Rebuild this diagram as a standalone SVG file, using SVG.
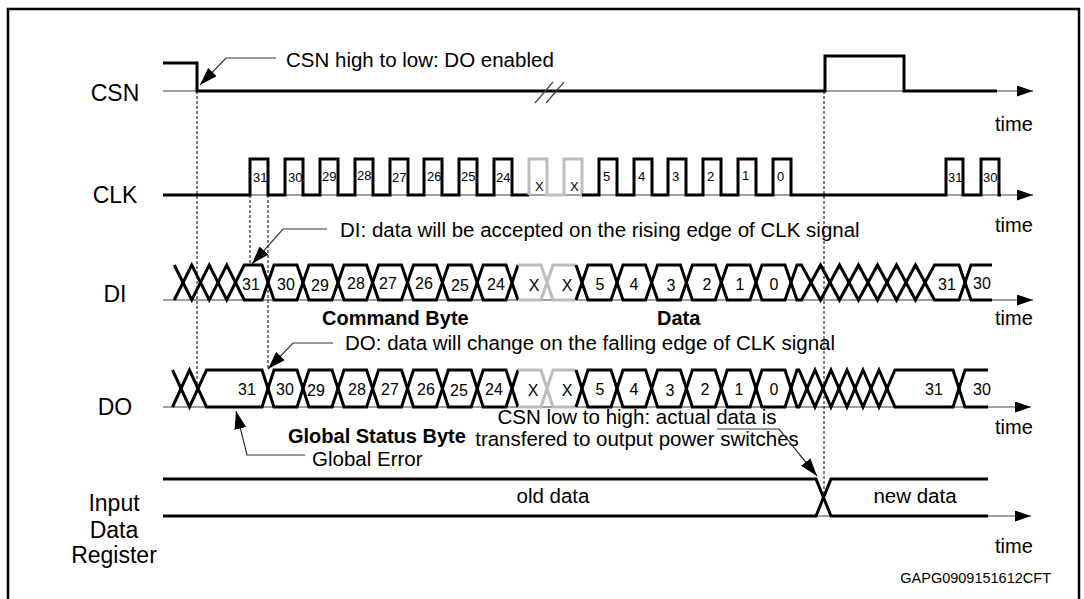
<svg xmlns="http://www.w3.org/2000/svg" width="1084" height="599" viewBox="0 0 1084 599">
<defs>
<marker id="ah" markerWidth="18" markerHeight="12" refX="18" refY="6" orient="auto" markerUnits="userSpaceOnUse"><path d="M0,0 L18,6 L0,12 z" fill="#000"/></marker>
<marker id="ax" markerWidth="16" markerHeight="11" refX="16" refY="5.5" orient="auto" markerUnits="userSpaceOnUse"><path d="M0,0 L16,5.5 L0,11 z" fill="#000"/></marker>
</defs>
<style>
text{font-family:"Liberation Sans",Arial,sans-serif;fill:#000}
.lbl{font-size:23px;text-anchor:middle}
.ann{font-size:20.5px}
.b{font-size:20px;font-weight:bold}
.tm{font-size:20px}
.sm{font-size:13px}
.bl{font-size:16px;text-anchor:middle}
.w{fill:none;stroke:#000;stroke-width:3;stroke-linejoin:miter}
.g{fill:none;stroke:#bdbdbd;stroke-width:3}
.axis{fill:none;stroke:#808080;stroke-width:1.5}
.dash{fill:none;stroke:#000;stroke-width:1;stroke-dasharray:3,2}
.lead{fill:none;stroke:#333;stroke-width:1.2}
.brk{fill:none;stroke:#444;stroke-width:1.2}
</style>
<rect id="frame" x="8" y="9" width="1071" height="610" fill="none" stroke="#000" stroke-width="2.5"/>

<g id="csn">
<text class="lbl" x="115" y="101">CSN</text>
<path class="axis" d="M163,91 H1033" marker-end="url(#ax)"/>
<path class="w" d="M163,63 H197 V91 H825 V56 H904 V91 H997"/>
<path class="brk" d="M535,103 L553,82 M546,103 L564,82"/>
<text class="tm" x="995" y="131">time</text>
</g>

<g id="clk">
<text class="lbl" x="115" y="203">CLK</text>
<path class="axis" d="M163,195 H1033" marker-end="url(#ax)"/>
<path class="w" d="M163,195 H250 V159 H268 V195 H285 V159 H303 V195 H320 V159 H338 V195 H355 V159 H373 V195 H390 V159 H408 V195 H424 V159 H442 V195 H459 V159 H477 V195 H494 V159 H512 V195 H529"/>
<path class="g" d="M529,195 V159 H547 V195 H564 V159 H582 V195"/>
<path class="w" d="M582,195 H599 V159 H617 V195 H634 V159 H652 V195 H668 V159 H686 V195 H703 V159 H721 V195 H738 V159 H756 V195 H773 V159 H791 V195 H946 V159 H963 V195 H981 V159 H999 V195 H1001"/>
<g>
<text class="sm" x="253" y="182">31</text><text class="sm" x="288" y="182">30</text><text class="sm" x="322" y="181">29</text><text class="sm" x="357" y="180">28</text><text class="sm" x="392" y="182">27</text><text class="sm" x="427" y="181">26</text><text class="sm" x="461" y="181">25</text><text class="sm" x="496" y="182">24</text>
<text class="sm" x="535" y="191">X</text><text class="sm" x="570" y="191">X</text>
<text class="sm" x="603" y="181">5</text><text class="sm" x="638" y="181">4</text><text class="sm" x="672" y="181">3</text><text class="sm" x="707" y="181">2</text><text class="sm" x="742" y="180">1</text><text class="sm" x="777" y="181">0</text>
<text class="sm" x="948" y="182">31</text><text class="sm" x="983" y="182">30</text>
</g>
<text class="tm" x="995" y="232">time</text>
</g>

<g id="di">
<text class="lbl" x="115" y="302">DI</text>
<path class="axis" d="M163,300 H1033" marker-end="url(#ax)"/>
<path class="w" d="M174.25,265 L191.75,300 L209.25,265 L226.75,300 L244.25,265 H262 L274,300 H297 L309,265 H332 L344,300 H366.6 L378.6,265 H401.5 L413.5,300 H436.4 L448.4,265 H471.2 L483.2,300 H506 L518,265"/>
<path class="w" d="M174.25,300 L191.75,265 L209.25,300 L226.75,265 L244.25,300 H262 L274,265 H297 L309,300 H332 L344,265 H366.6 L378.6,300 H401.5 L413.5,265 H436.4 L448.4,300 H471.2 L483.2,265 H506 L518,300"/>
<path class="g" d="M518,265 H541 L553,300 H576 M518,300 H541 L553,265 H576"/>
<path class="w" d="M576,265 L588,300 H611 L623,265 H645.6 L657.6,300 H680.4 L692.4,265 H715.3 L727.3,300 H750 L762,265 H785 L797,300 H801.5 L820.5,265 L839.5,300 L858.5,265 L877.5,300 L896.5,265 L915.5,300 L934.5,265 H959 L971,300 H992"/>
<path class="w" d="M576,300 L588,265 H611 L623,300 H645.6 L657.6,265 H680.4 L692.4,300 H715.3 L727.3,265 H750 L762,300 H785 L797,265 H801.5 L820.5,300 L839.5,265 L858.5,300 L877.5,265 L896.5,300 L915.5,265 L934.5,300 H959 L971,265 H992"/>
<text class="bl" x="251" y="290">31</text><text class="bl" x="286" y="290">30</text><text class="bl" x="320" y="291">29</text><text class="bl" x="356" y="289">28</text><text class="bl" x="388" y="289">27</text><text class="bl" x="424" y="289">26</text><text class="bl" x="460" y="291">25</text><text class="bl" x="496" y="290">24</text>
<text class="bl" x="534" y="291">X</text><text class="bl" x="567" y="291">X</text>
<text class="bl" x="600" y="290">5</text><text class="bl" x="634" y="290">4</text><text class="bl" x="671" y="291">3</text><text class="bl" x="707" y="290">2</text><text class="bl" x="740" y="290">1</text><text class="bl" x="774" y="290">0</text>
<text class="bl" x="947" y="290">31</text><text class="bl" x="982" y="289">30</text>
<text class="tm" x="995" y="325">time</text>
</g>

<g id="do">
<text class="lbl" x="115" y="415">DO</text>
<path class="axis" d="M163,407 H1031" marker-end="url(#ax)"/>
<path class="w" d="M172.5,370 L189.5,407 L206.5,370 H262 L274,407 H297 L309,370 H332 L344,407 H366.6 L378.6,370 H401.5 L413.5,407 H436.4 L448.4,370 H471.2 L483.2,407 H506 L518,370"/>
<path class="w" d="M172.5,407 L189.5,370 L206.5,407 H262 L274,370 H297 L309,407 H332 L344,370 H366.6 L378.6,407 H401.5 L413.5,370 H436.4 L448.4,407 H471.2 L483.2,370 H506 L518,407"/>
<path class="g" d="M518,370 H541 L553,407 H576 M518,407 H541 L553,370 H576"/>
<path class="w" d="M576,370 L588,407 H611 L623,370 H645.6 L657.6,407 H680.4 L692.4,370 H715.3 L727.3,407 H750 L762,370 H785 L797,407 H799 L815,370 L831,407 L847,370 L863,407 L879,370 L895,407 H953 L965,370 H988"/>
<path class="w" d="M576,407 L588,370 H611 L623,407 H645.6 L657.6,370 H680.4 L692.4,407 H715.3 L727.3,370 H750 L762,407 H785 L797,370 H799 L815,407 L831,370 L847,407 L863,370 L879,407 L895,370 H953 L965,407 H988"/>
<text class="bl" x="247" y="395">31</text><text class="bl" x="285" y="395">30</text><text class="bl" x="316" y="396">29</text><text class="bl" x="357" y="395">28</text><text class="bl" x="390" y="395">27</text><text class="bl" x="426" y="395">26</text><text class="bl" x="459" y="396">25</text><text class="bl" x="494" y="395">24</text>
<text class="bl" x="533" y="396">X</text><text class="bl" x="567" y="396">X</text>
<text class="bl" x="600" y="395">5</text><text class="bl" x="634" y="395">4</text><text class="bl" x="670" y="396">3</text><text class="bl" x="705" y="395">2</text><text class="bl" x="739" y="395">1</text><text class="bl" x="774" y="395">0</text>
<text class="bl" x="934" y="395">31</text><text class="bl" x="982" y="395">30</text>
<text class="tm" x="995" y="434">time</text>
</g>

<g id="register">
<text class="lbl" x="114" y="511">Input</text>
<text class="lbl" x="114" y="538">Data</text>
<text class="lbl" x="114" y="563">Register</text>
<path class="axis" d="M163,516 H1031" marker-end="url(#ax)"/>
<path class="w" d="M163,479 H816 L831,516 H988"/>
<path class="w" d="M163,516 H816 L831,479 H988"/>
<text class="ann" x="553" y="503" text-anchor="middle">old data</text>
<text class="ann" x="915" y="503" text-anchor="middle">new data</text>
<text class="tm" x="995" y="553">time</text>
</g>

<g id="annotations">
<text class="ann" x="286" y="67">CSN high to low: DO enabled</text>
<text class="ann" x="340" y="237">DI: data will be accepted on the rising edge of CLK signal</text>
<text class="b" x="322" y="325">Command Byte</text>
<text class="b" x="657" y="325">Data</text>
<text class="ann" x="345" y="350">DO: data will change on the falling edge of CLK signal</text>
<text class="b" x="288" y="443">Global Status Byte</text>
<text class="ann" x="312" y="466">Global Error</text>
<text class="ann" x="637" y="424" text-anchor="middle">CSN low to high: actual data is</text>
<text class="ann" x="637" y="446" text-anchor="middle">transfered to output power switches</text>
<text x="1051" y="583" text-anchor="end" style="font-size:14.5px">GAPG0909151612CFT</text>
</g>

<g id="connectors">
<path class="dash" d="M197,91 V388"/>
<path class="dash" d="M250,195 V265"/>
<path class="dash" d="M268,195 V370"/>
<path class="dash" d="M824,91 V497"/>
<path class="lead" d="M276,58 H226 L200,85" marker-end="url(#ah)"/>
<path class="lead" d="M327,229 H283 L252,264" marker-end="url(#ah)"/>
<path class="lead" d="M333,343 H293 L268,369" marker-end="url(#ah)"/>
<path class="lead" d="M305,455 H247 L236,411" marker-end="url(#ah)"/>
<path class="lead" d="M717,429 H779 L817,476" marker-end="url(#ah)"/>
</g>
</svg>
